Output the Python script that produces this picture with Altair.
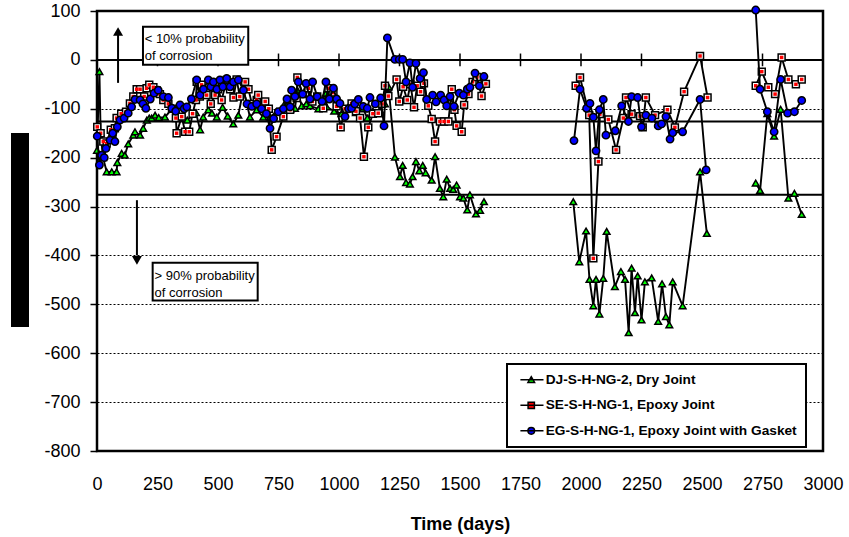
import altair as alt
import pandas as pd

# ---------------------------------------------------------------------------
# Half-cell potential readings (mV) against time (days)
# ---------------------------------------------------------------------------
SERIES = [
    "DJ-S-H-NG-2, Dry Joint",
    "SE-S-H-NG-1, Epoxy Joint",
    "EG-S-H-NG-1, Epoxy Joint with Gasket",
]

dj_days = [0, 10, 15, 25, 40, 61, 81, 84, 102, 115, 129, 150, 157, 178, 191, 206, 216,
           226, 240, 255, 281, 312, 340, 373, 409, 426, 439, 460, 475, 495, 519, 540,
           563, 584, 605, 632, 660, 687, 715, 742, 773, 784, 800, 818, 828, 846, 865,
           880, 915, 946, 949, 980, 1010, 1040, 1070, 1100, 1117, 1140, 1169, 1190,
           1205, 1231, 1252, 1263, 1277, 1293, 1304, 1318, 1332, 1346, 1358, 1383,
           1397, 1417, 1431, 1445, 1459, 1472, 1486, 1500, 1514, 1530, 1541, 1566,
           1583, 1599,
           1968, 1993, 2021, 2035, 2051, 2062, 2076, 2092, 2106, 2140, 2165, 2182,
           2197, 2209, 2223, 2234, 2250, 2264, 2292, 2319, 2335, 2351, 2365, 2379,
           2420, 2492, 2520,
           2722, 2740, 2770, 2798, 2825, 2857, 2882, 2912]
dj_mv = [-185, -24, -150, -200, -229, -229, -229, -210, -191, -195, -172, -154, -147,
         -154, -140, -123, -119, -119, -113, -118, -117, -99, -115, -123, -108, -143,
         -117, -102, -109, -117, -97, -115, -131, -113, -60, -117, -102, -117, -117,
         -106, -92, -94, -100, -99, -62, -94, -90, -94, -100, -68, -96, -105, -110,
         -95, -108, -100, -119, -105, -102, -90, -55, -199, -239, -216, -251, -254,
         -239, -208, -227, -216, -231, -246, -198, -263, -280, -244, -263, -265,
         -256, -280, -283, -307, -276, -315, -308, -290,
         -290, -413, -350, -449, -503, -449, -520, -447, -351, -464, -433, -449,
         -558, -426, -517, -442, -532, -454, -446, -535, -458, -525, -542, -454,
         -503, -229, -355,
         -252, -267, -110, -156, -101, -283, -273, -316]

se_days = [1, 15, 26, 40, 57, 74, 81, 100, 120, 136, 150, 164, 178, 195, 205, 216, 233,
           246, 260, 274, 295, 310, 326, 329, 350, 364, 381, 395, 409, 412, 425, 432,
           453, 470, 488, 500, 515, 536, 550, 564, 577, 590, 612, 626, 640, 660, 666,
           680, 695, 710, 722, 742, 770, 798, 825, 828, 850, 873, 890, 910, 935, 956,
           977, 990, 1007, 1025, 1052, 1070, 1087, 1103, 1121, 1140, 1162, 1178, 1190,
           1204, 1238, 1249, 1265, 1282, 1295, 1310, 1323, 1337, 1351, 1369, 1383,
           1397, 1417, 1434, 1452, 1466, 1477, 1486, 1507, 1517, 1535, 1552, 1570,
           1589, 1607,
           1978, 1996, 2034, 2051, 2072, 2078, 2113, 2145, 2175, 2186, 2209, 2244,
           2255, 2268, 2306, 2357, 2388, 2426, 2492, 2523,
           2722, 2747, 2774, 2802, 2829, 2857, 2888, 2912]
se_mv = [-137, -150, -167, -171, -143, -140, -119, -110, -106, -89, -75, -60, -60, -75,
         -58, -51, -56, -62, -70, -82, -90, -100, -119, -150, -116, -147, -147, -110,
         -82, -45, -75, -51, -72, -90, -72, -60, -82, -41, -60, -77, -40, -75, -45,
         -60, -90, -82, -72, -95, -85, -100, -184, -157, -116, -102, -78, -36, -70,
         -58, -85, -75, -99, -58, -67, -95, -138, -100, -89, -105, -119, -198, -138,
         -110, -109, -90, -53, -74, -40, -85, -55, -82, -50, -97, -53, -65, -48, -94,
         -121, -167, -126, -126, -126, -60, -102, -135, -147, -92, -70, -45, -35,
         -74, -49,
         -53, -36, -113, -406, -208, -111, -122, -184, -119, -77, -111, -115, -138,
         -77, -113, -102, -138, -65, 8, -77,
         -53, -24, -56, -70, 5, -40, -50, -40]

eg_days = [1, 10, 19, 30, 37, 54, 65, 74, 84, 95, 112, 129, 143, 157, 178, 190, 202,
           220, 236, 253, 274, 295, 309, 325, 343, 360, 371, 390, 412, 426, 440, 460,
           470, 481, 495, 508, 520, 536, 550, 564, 584, 605, 620, 640, 660, 680, 700,
           715, 730, 749, 770, 785, 798, 804, 818, 832, 850, 864, 880, 891, 910, 930,
           946, 960, 977, 990, 1004, 1025, 1040, 1052, 1065, 1080, 1100, 1117, 1128,
           1150, 1172, 1186, 1200, 1231, 1249, 1263, 1277, 1293, 1304, 1318, 1335,
           1349, 1362, 1387, 1401, 1420, 1434, 1445, 1459, 1475, 1497, 1514, 1530,
           1541, 1562, 1580, 1599,
           1971, 1996, 2023, 2037, 2051, 2062, 2076, 2092, 2103, 2142, 2168, 2196,
           2209, 2234, 2250, 2268, 2293, 2319, 2333, 2351, 2368, 2379, 2420, 2492,
           2517,
           2722, 2740, 2770, 2798, 2825, 2854, 2882, 2912]
eg_mv = [-156, -215, -195, -200, -181, -164, -150, -167, -137, -123, -119, -109, -96,
         -81, -82, -90, -99, -80, -68, -62, -75, -77, -99, -105, -92, -100, -96, -80,
         -41, -72, -60, -41, -55, -45, -60, -41, -55, -38, -55, -45, -41, -62, -90,
         -95, -90, -100, -110, -140, -120, -106, -100, -80, -96, -62, -75, -45, -70,
         -48, -80, -45, -75, -85, -45, -80, -58, -80, -89, -116, -100, -99, -90, -81,
         -95, -99, -77, -90, -78, -135, 45, 1, 1, 1, -45, -6, -56, -7, -38, -26, -81,
         -72, -86, -72, -82, -94, -75, -95, -68, -72, -60, -56, -27, -53, -34,
         -165, -60, -99, -89, -117, -186, -102, -81, -154, -145, -94, -126, -75, -77,
         -137, -113, -119, -135, -131, -116, -162, -149, -147, -81, -225,
         102, -60, -106, -147, -40, -109, -106, -83]

# Axis tick values
X_TICKS = list(range(0, 3001, 250))
Y_TICKS = list(range(-800, 101, 100))

# Corrosion-probability thresholds (mV)
THRESHOLDS = [-126, -276]

# Annotation text
NOTE_LOW = ["< 10% probability", "of corrosion"]
NOTE_HIGH = ["> 90% probability", "of corrosion"]

FILL = ["#00FF00", "#FF0000", "#0000FF"]
# legend keys: short black line with the series marker on it
KEY_PATHS = [
    "M-0.7,0H5.9M2.4,-0.9L3.35,0.75L1.45,0.75Z",
    "M-0.7,0H5.9M1.5,-0.9H3.3V0.9H1.5Z",
    "M-0.7,0H5.9M1.45,0A0.95,0.95 0 1,0 3.35,0A0.95,0.95 0 1,0 1.45,0Z",
]

FONT = "Liberation Sans"
PLAIN_NUMBER = "'' + datum.value"   # plain integers with an ASCII minus sign


def series_frame(days, mv, name):
    df = pd.DataFrame({"day": days, "mv": mv})
    # break the line wherever readings stop for a long period
    df["seg"] = (df["day"].diff() > 150).cumsum()
    df["series"] = name
    return df


dj = series_frame(dj_days, dj_mv, SERIES[0])
se = series_frame(se_days, se_mv, SERIES[1])
eg = series_frame(eg_days, eg_mv, SERIES[2])

xs = alt.Scale(domain=[0, 3000], nice=False, zero=False)
ys = alt.Scale(domain=[-800, 100], nice=False, zero=False)

x_axis = alt.Axis(values=X_TICKS, labelExpr=PLAIN_NUMBER, labelFont=FONT, labelFontSize=18,
                  labelColor="black", labelPadding=24, ticks=False, domain=False,
                  grid=False, labelFlush=False, labelOverlap=False,
                  titleFont=FONT, titleFontSize=18, titleFontWeight="bold",
                  titleColor="black", titlePadding=22)
y_axis = alt.Axis(values=Y_TICKS, labelExpr=PLAIN_NUMBER, labelFont=FONT, labelFontSize=18,
                  labelColor="black", labelPadding=10, tickSize=7, tickColor="black",
                  tickWidth=1.5, domain=False, grid=True, gridColor="black",
                  gridDash=[2, 2], gridWidth=1, labelOverlap=False)


def xq(field):
    return alt.X(field, type="quantitative", scale=xs, axis=x_axis, title="Time (days)")


def yq(field):
    return alt.Y(field, type="quantitative", scale=ys, axis=y_axis, title=None)


X = xq("day")
Y = yq("mv")

# background: axes with dotted gridlines
frame_df = pd.DataFrame({"day": [0, 3000], "mv": [-800, 100]})
axes = alt.Chart(frame_df).mark_point(opacity=0).encode(x=X, y=Y)

# zero line with cross tick marks, and the two threshold lines
zero_line = alt.Chart(pd.DataFrame({"mv": [0]})).mark_rule(
    color="black", strokeWidth=2).encode(y=Y)
thr_lines = alt.Chart(pd.DataFrame({"mv": THRESHOLDS})).mark_rule(
    color="black", strokeWidth=2).encode(y=Y)
zero_ticks = alt.Chart(pd.DataFrame({"day": X_TICKS[1:-1]})).mark_rule(
    color="black", strokeWidth=1.5).encode(
    x=X, y=alt.Y(datum=13, scale=ys, axis=y_axis, title=None), y2=alt.datum(-13))

# arrows
arrow_lines = alt.Chart(pd.DataFrame({
    "day": [87, 165], "lo": [-47, -287], "hi": [51, -400]})).mark_rule(
    color="black", strokeWidth=2).encode(x=X, y=yq("lo"), y2="hi:Q")
arrow_up = alt.Chart(pd.DataFrame({"day": [87], "mv": [58]})).mark_point(
    shape="triangle-up", filled=True, color="black", size=100, opacity=1).encode(x=X, y=Y)
arrow_down = alt.Chart(pd.DataFrame({"day": [165], "mv": [-410]})).mark_point(
    shape="triangle-down", filled=True, color="black", size=100, opacity=1).encode(x=X, y=Y)

# annotation boxes
boxes = alt.Chart(pd.DataFrame({
    "x1": [190, 230], "x2": [625, 664], "y1": [68, -415], "y2": [-10, -492]})).mark_rect(
    fill="white", stroke="black", strokeWidth=2).encode(
    x=xq("x1"), x2="x2:Q", y=yq("y1"), y2="y2:Q")
notes = alt.Chart(pd.DataFrame({
    "day": [197, 197, 238, 238],
    "mv": [42, 7, -443, -476],
    "txt": NOTE_LOW + NOTE_HIGH})).mark_text(
    align="left", baseline="middle", font=FONT, fontSize=13, color="black").encode(
    x=X, y=Y, text="txt:N")


def series_layers(df, shape, fill, size):
    line = alt.Chart(df).mark_line(color="black", strokeWidth=1.9).encode(
        x=X, y=Y, detail="seg:N", order="day:Q")
    pts = alt.Chart(df).mark_point(shape=shape, filled=True, fill=fill, stroke="black",
                                   strokeWidth=1.5, size=size, opacity=1).encode(x=X, y=Y)
    return [line, pts]


dj_layers = series_layers(dj, "triangle-up", FILL[0], 44)
se_line, se_box = series_layers(se, "square", "white", 48)
se_core = alt.Chart(se).mark_point(shape="square", filled=True, fill=FILL[1],
                                   strokeWidth=0, size=12, opacity=1).encode(x=X, y=Y)
eg_layers = series_layers(eg, "circle", FILL[2], 54)

# legend (keys drawn from the scales, no data rows)
key_legend = alt.Legend(title=None, orient="none", legendX=410, legendY=353)
legend_layer = alt.Chart(pd.DataFrame({"series": SERIES})).transform_filter(
    "false").mark_point(filled=True, strokeWidth=1.5, opacity=1).encode(
    fill=alt.Fill("series:N", scale=alt.Scale(domain=SERIES, range=FILL), legend=key_legend),
    shape=alt.Shape("series:N", scale=alt.Scale(domain=SERIES, range=KEY_PATHS),
                    legend=key_legend),
    stroke=alt.Stroke("series:N", scale=alt.Scale(domain=SERIES, range=["black"] * 3),
                      legend=key_legend),
)

# placeholder band for the vertical axis title
title_band = alt.Chart(pd.DataFrame({"k": [0]})).mark_rect(color="black").encode(
    x=alt.value(-86), x2=alt.value(-68), y=alt.value(122), y2=alt.value(316))

chart = alt.layer(
    axes, zero_ticks, zero_line, thr_lines, arrow_lines, arrow_up, arrow_down,
    boxes, notes, *dj_layers, se_line, se_box, se_core, *eg_layers, legend_layer,
    title_band,
).properties(
    width=726, height=440,
    autosize=alt.AutoSizeParams(type="none"),
    padding={"left": 97, "top": 11, "right": 26, "bottom": 86},
    background="white",
).configure_view(
    stroke="black", strokeWidth=2.5,
).configure_legend(
    padding=9, strokeColor="black", strokeWidth=2, fillColor="white",
    labelFont=FONT, labelFontSize=13.7, labelFontWeight="bold", labelColor="black",
    labelOffset=16, rowPadding=10.5, symbolSize=49, symbolStrokeColor="black",
    symbolStrokeWidth=1.5, cornerRadius=0, labelLimit=400,
)

chart.save("out.html", embed_options={"renderer": "svg", "actions": False})
